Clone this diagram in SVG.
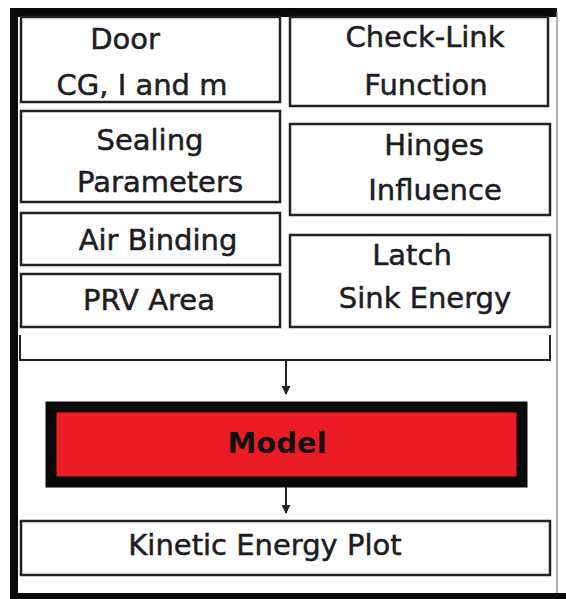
<svg xmlns="http://www.w3.org/2000/svg" width="566" height="599" viewBox="0 0 566 599">
<style>
  .box { fill: #ffffff; stroke: #222; stroke-width: 2.5; }
  .t { font-family: "DejaVu Sans", "Liberation Sans", sans-serif; font-size: 29px; fill: #1c1c22; stroke: #1c1c22; stroke-width: 0.5; text-anchor: middle; }
  .tb { font-family: "DejaVu Sans", "Liberation Sans", sans-serif; font-size: 29px; font-weight: bold; fill: #111; text-anchor: middle; }
  .conn { stroke: #222; stroke-width: 2; fill: none; }
</style>
<defs>
  <marker id="arr" viewBox="0 0 10 10" refX="9" refY="5" markerWidth="4.5" markerHeight="4.5" orient="auto">
    <path d="M0,0 L10,5 L0,10 z" fill="#222"/>
  </marker>
</defs>
<rect width="566" height="599" fill="#ffffff"/>
<g id="frame">
  <rect x="10" y="8" width="547" height="9" fill="#0a0a0a"/>
  <rect x="10" y="8" width="8" height="591" fill="#0a0a0a"/>
  <rect x="10" y="593" width="556" height="6" fill="#0a0a0a"/>
  <line x1="557" y1="12" x2="557" y2="593" stroke="#999" stroke-width="1.5"/>
</g>
<g id="door">
  <rect class="box" x="21" y="17" width="259" height="85"/>
  <text class="t" x="125" y="49">Door</text>
  <text class="t" x="142" y="95">CG, I and m</text>
</g>
<g id="sealing">
  <rect class="box" x="21" y="111" width="259" height="91"/>
  <text class="t" x="150" y="150">Sealing</text>
  <text class="t" x="160" y="192">Parameters</text>
</g>
<g id="air-binding">
  <rect class="box" x="21" y="213" width="259" height="52"/>
  <text class="t" x="158" y="250">Air Binding</text>
</g>
<g id="prv-area">
  <rect class="box" x="21" y="274" width="259" height="53"/>
  <text class="t" x="149" y="310">PRV Area</text>
</g>
<g id="check-link">
  <rect class="box" x="290" y="17" width="258" height="89"/>
  <text class="t" x="425" y="47">Check-Link</text>
  <text class="t" x="426" y="95">Function</text>
</g>
<g id="hinges">
  <rect class="box" x="290" y="124" width="260" height="91"/>
  <text class="t" x="434" y="155">Hinges</text>
  <text class="t" x="435" y="200">Influence</text>
</g>
<g id="latch">
  <rect class="box" x="290" y="235" width="260" height="92"/>
  <text class="t" x="412" y="265">Latch</text>
  <text class="t" x="425" y="308">Sink Energy</text>
</g>
<g id="model">
  <rect x="51" y="407" width="471" height="75" fill="#ed1c24" stroke="#0a0a0a" stroke-width="11"/>
  <text class="tb" x="277" y="453">Model</text>
</g>
<g id="kinetic-energy-plot">
  <rect class="box" x="21" y="521" width="529" height="54"/>
  <text class="t" x="265" y="555">Kinetic Energy Plot</text>
</g>
<g id="connectors">
  <polyline class="conn" points="20,335 20,360 550,360 550,335"/>
  <line class="conn" x1="286" y1="360" x2="286" y2="394" marker-end="url(#arr)"/>
  <line class="conn" x1="286" y1="487" x2="286" y2="513" marker-end="url(#arr)"/>
</g>
</svg>
